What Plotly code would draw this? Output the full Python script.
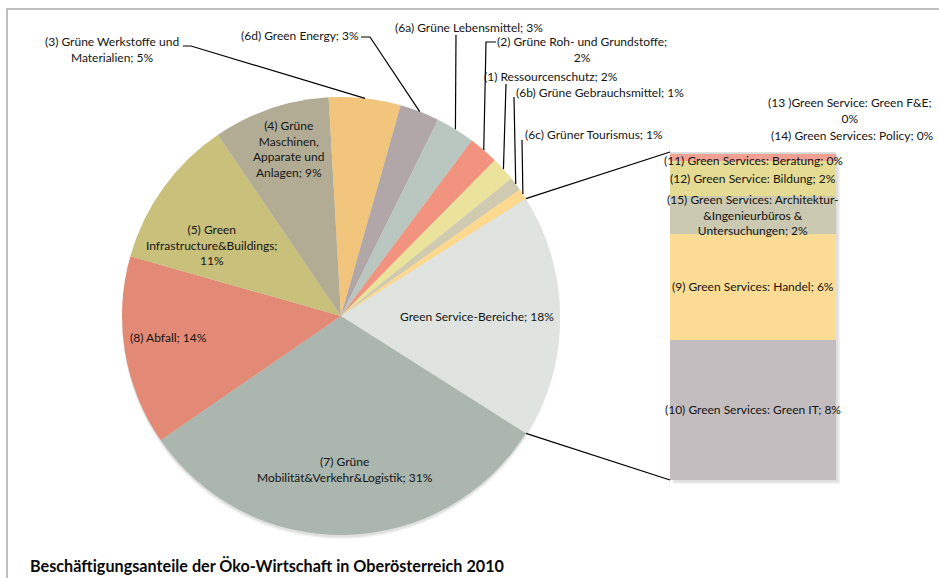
import math
import plotly.graph_objects as go

# ---------------- data ----------------
# slices of the main pie, clockwise, starting with the "other" slice
pie_names = [
    "Green Service-Bereiche",
    "(7) Grüne Mobilität&Verkehr&Logistik",
    "(8) Abfall",
    "(5) Green Infrastructure&Buildings",
    "(4) Grüne Maschinen, Apparate und Anlagen",
    "(3) Grüne Werkstoffe und Materialien",
    "(6d) Green Energy",
    "(6a) Grüne Lebensmittel",
    "(2) Grüne Roh- und Grundstoffe",
    "(1) Ressourcenschutz",
    "(6b) Grüne Gebrauchsmittel",
    "(6c) Grüner Tourismus",
]
main_values = [31.4, 14.0, 11.1, 8.6, 5.3, 2.9, 2.9, 2.2, 1.8, 1.0, 0.8]  # (7) ... (6c)

# breakdown of "Green Service-Bereiche" (bottom to top of the bar)
bar_names = [
    "(10) Green Services: Green IT",
    "(9) Green Services: Handel",
    "(15) Green Services: Architektur-&Ingenieurbüros & Untersuchungen",
    "(12) Green Service: Bildung",
    "(11) Green Services: Beratung",
    "(13 )Green Service: Green F&E",
    "(14) Green Services: Policy",
]
bar_values = [7.7, 5.8, 2.1, 1.9, 0.4, 0.05, 0.05]

title_text = "Beschäftigungsanteile der Öko-Wirtschaft in Oberösterreich 2010"

service_total = sum(bar_values)
pie_values = [service_total] + main_values

# ---------------- styling / layout ----------------
W, H = 939, 578
CX, CY, R = 341, 316, 219          # pie centre / radius (px)
BX0, BX1, BY0, BY1 = 670, 836, 152, 480   # bar box (px)
FONT = "Lato"
TXT = "#141414"
FS = 12

pie_colors = ["#dfe4e0", "#abb6ae", "#e38a76", "#c9c07c", "#b2ac94", "#f1c57c",
              "#b1a7a9", "#bac7c0", "#f2937f", "#ebe29c", "#cfcab0", "#fcd98e"]
bar_colors = ["#c4bdbf", "#fcdc94", "#cbc9b1", "#e6db93", "#f2a194", "#d5dcd6", "#dde0dc"]

# label templates: (x, y, text template) in px; {p} = rounded percent
pie_label_layout = {
    0: (477, 316, "Green Service-Bereiche; {p}%"),
    1: (345, 469, "(7) Grüne<br>Mobilität&Verkehr&Logistik; {p}%"),
    2: (168, 337, "(8) Abfall; {p}%"),
    3: (212, 245, "(5) Green<br>Infrastructure&Buildings;<br>{p}%"),
    4: (288, 149, "(4) Grüne<br>Maschinen,<br>Apparate und<br>Anlagen; {p}%"),
    5: (112, 50, "(3) Grüne Werkstoffe und<br>Materialien; {p}%"),
    6: (300, 36, "(6d) Green Energy; {p}%"),
    7: (469, 27, "(6a) Grüne Lebensmittel; {p}%"),
    8: (582, 50, "(2) Grüne Roh- und Grundstoffe;<br>{p}%"),
    9: (551, 76, "(1) Ressourcenschutz; {p}%"),
    10: (600, 92, "(6b) Grüne Gebrauchsmittel; {p}%"),
    11: (594, 134, "(6c) Grüner Tourismus; {p}%"),
}
# leader-line start points (px); the line ends on the slice's outer edge
leader_starts = {
    5: [(183, 46), (191, 46)],
    6: [(361, 37), (370, 37)],
    7: [(456, 35)],
    8: [(496, 42), (486, 42)],
    9: [(506, 84)],
    10: [(514, 97)],
    11: [(522, 140)],
}
bar_label_layout = {
    0: "(10) Green Services: Green IT; {p}%",
    1: "(9) Green Services: Handel; {p}%",
    2: "(15) Green Services: Architektur-<br>&Ingenieurbüros &<br>Untersuchungen; {p}%",
    3: "(12) Green Service: Bildung; {p}%",
    4: "(11) Green Services: Beratung; {p}%",
}
bar_outside_labels = {
    5: (850, 111, "center", "(13 )Green Service: Green F&E;<br>{p}%"),
    6: (936, 135, "right", "(14) Green Services: Policy; {p}%"),
}


def px(x, y):
    return x / W, 1 - y / H


total = sum(pie_values)
rot = 90 - (pie_values[0] / total * 360) / 2   # centre the "other" slice at 3 o'clock
starts = []
a = rot
for v in pie_values:
    starts.append(a)
    a += v / total * 360


def edge(angle_deg, r=R):
    t = math.radians(angle_deg)
    return CX + r * math.sin(t), CY - r * math.cos(t)


fig = go.Figure()

fig.add_trace(go.Pie(
    labels=pie_names, values=pie_values, sort=False, direction="clockwise",
    rotation=rot, textinfo="none", showlegend=False,
    marker=dict(colors=pie_colors, line=dict(width=0)),
    domain=dict(x=[(CX - R) / W, (CX + R) / W], y=[1 - (CY + R) / H, 1 - (CY - R) / H]),
    hoverinfo="label+percent",
))

for name, v, c in zip(bar_names, bar_values, bar_colors):
    fig.add_trace(go.Bar(x=[0], y=[v], width=[1], name=name, showlegend=False,
                         marker=dict(color=c, line=dict(width=0)),
                         hoverinfo="name+y"))

annotations = []
for i, (x, y, tmpl) in pie_label_layout.items():
    p = f"{pie_values[i] / total * 100:.0f}"
    xp, yp = px(x, y)
    annotations.append(dict(x=xp, y=yp, xref="paper", yref="paper", text=tmpl.format(p=p),
                            showarrow=False, xanchor="center", yanchor="middle", align="center",
                            font=dict(family=FONT, size=FS, color=TXT)))

cum = 0
for i, v in enumerate(bar_values):
    mid = cum + v / 2
    cum += v
    p = f"{v:.0f}"
    if i in bar_label_layout:
        annotations.append(dict(x=0, y=mid, xref="x", yref="y", text=bar_label_layout[i].format(p=p),
                                showarrow=False, xanchor="center", yanchor="middle", align="center",
                                yshift=-3 if i == 4 else 0,
                                font=dict(family=FONT, size=FS, color=TXT)))
for i, (x, y, anc, tmpl) in bar_outside_labels.items():
    xp, yp = px(x, y)
    annotations.append(dict(x=xp, y=yp, xref="paper", yref="paper",
                            text=tmpl.format(p=f"{bar_values[i]:.0f}"),
                            showarrow=False, xanchor=anc, yanchor="middle", align="center",
                            font=dict(family=FONT, size=FS, color=TXT)))

tx, ty = px(28, 565)
annotations.append(dict(x=tx, y=ty, xref="paper", yref="paper", text="<b>" + title_text + "</b>",
                        showarrow=False, xanchor="left", yanchor="middle",
                        font=dict(family=FONT, size=16.2, color="#0a0a0a")))

shapes = []
# chart border
shapes.append(dict(type="rect", xref="paper", yref="paper", x0=7 / W, x1=1.02, y0=-0.02, y1=1 - 9 / H,
                   line=dict(color="#ababab", width=1.5), fillcolor="rgba(0,0,0,0)", layer="below"))
# soft shadows
for k, alpha in [(4, 0.05), (2.5, 0.07)]:
    x0, y0 = px(CX - R, CY - R + k)
    x1, y1 = px(CX + R, CY + R + k)
    shapes.append(dict(type="circle", xref="paper", yref="paper", x0=x0, x1=x1, y0=y1, y1=y0,
                       line=dict(width=0), fillcolor=f"rgba(0,0,0,{alpha})", layer="below"))
    x0, y0 = px(BX0 + k, BY0 + k)
    x1, y1 = px(BX1 + k, BY1 + k)
    shapes.append(dict(type="rect", xref="paper", yref="paper", x0=x0, x1=x1, y0=y1, y1=y0,
                       line=dict(width=0), fillcolor=f"rgba(0,0,0,{alpha})", layer="below"))

# leader lines
for i, pts in leader_starts.items():
    mid_angle = starts[i] + pie_values[i] / total * 360 / 2
    ex, ey = edge(mid_angle)
    allpts = pts + [(ex, ey)]
    path = ""
    for j, (x, y) in enumerate(allpts):
        xp, yp = px(x, y)
        path += ("M" if j == 0 else "L") + f"{xp:.5f},{yp:.5f} "
    shapes.append(dict(type="path", xref="paper", yref="paper", path=path,
                       line=dict(color="#000000", width=1.2)))

# connectors pie -> bar
gs_a0 = starts[0]
gs_a1 = starts[0] + pie_values[0] / total * 360
for ang, by in [(gs_a0, BY0), (gs_a1, BY1)]:
    ex, ey = edge(ang)
    x0, y0 = px(ex, ey)
    x1, y1 = px(BX0, by)
    shapes.append(dict(type="line", xref="paper", yref="paper", x0=x0, y0=y0, x1=x1, y1=y1,
                       line=dict(color="#000000", width=1.2)))

fig.update_layout(
    width=W, height=H, margin=dict(l=0, r=0, t=0, b=0),
    paper_bgcolor="white", plot_bgcolor="rgba(0,0,0,0)",
    barmode="stack", bargap=0,
    xaxis=dict(domain=[BX0 / W, BX1 / W], range=[-0.5, 0.5], visible=False, fixedrange=True),
    yaxis=dict(domain=[1 - BY1 / H, 1 - BY0 / H], range=[0, service_total], visible=False, fixedrange=True),
    annotations=annotations, shapes=shapes,
    font=dict(family=FONT, size=FS, color=TXT),
)

fig.write_html("out.html")
